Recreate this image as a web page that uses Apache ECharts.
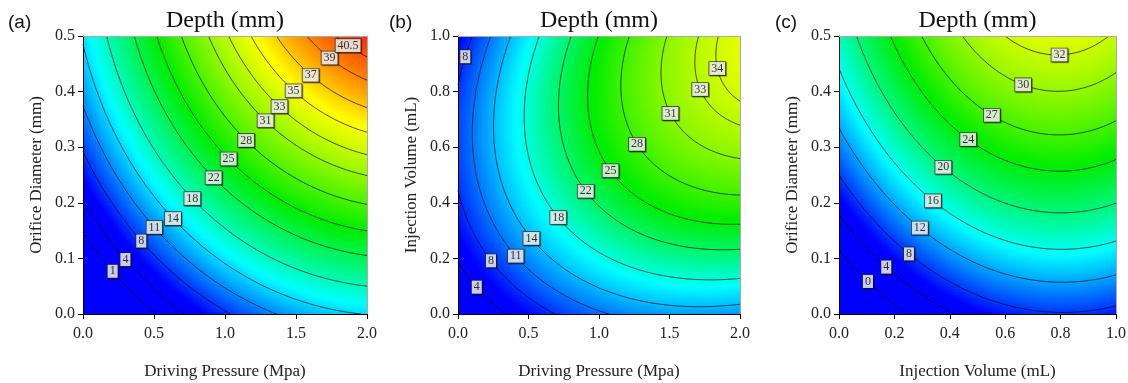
<!DOCTYPE html>
<html><head><meta charset="utf-8">
<script src="https://cdn.jsdelivr.net/npm/echarts/dist/echarts.min.js"></script>
<style>html,body{margin:0;padding:0;background:#fff}#c{width:1128px;height:383px}</style>
</head><body><div id="c"></div>
<script>
// ---------- Panel (a): Depth vs Driving Pressure (MPa) x Orifice Diameter (mm)
const aLabelZ = [1, 4, 8, 11, 14, 18, 22, 25, 28, 31, 33, 35, 37, 39, 40.5];
const aLabelX = [0.224, 0.313, 0.419, 0.508, 0.640, 0.772, 0.920, 1.026, 1.148, 1.287, 1.384, 1.485, 1.612, 1.748, 1.882];
const aLabelY = [0.080, 0.101, 0.133, 0.157, 0.173, 0.208, 0.245, 0.279, 0.312, 0.348, 0.373, 0.402, 0.432, 0.464, 0.488];
// contour crossings with the plot edges
const aEdgeZ = [1, 1, 4, 4, 8, 8, 11, 11, 14, 18, 18, 22, 22, 25, 25, 28, 28, 31, 31, 33, 33, 35, 35, 37, 37, 39, 39, 40.5, 40.5];
const aEdgeX = [0, 0.494, 0, 0.694, 0, 1.012, 0, 1.342, 2, 0.176, 2, 0.366, 2, 0.530, 2, 0.694, 2, 0.848, 2, 1.012, 2, 1.200, 2, 1.370, 2, 1.550, 2, 1.776, 2];
const aEdgeY = [0.1445, 0, 0.1995, 0, 0.2855, 0, 0.3665, 0, 0.0035, 0.5, 0.0515, 0.5, 0.1055, 0.5, 0.1475, 0.5, 0.1955, 0.5, 0.247, 0.5, 0.2855, 0.5, 0.328, 0.5, 0.365, 0.5, 0.419, 0.5, 0.463];
const aLevels = [1, 4, 8, 11, 14, 18, 22, 25, 28, 31, 33, 35, 37, 39, 40.5];
const aColorStops = [6, 15.5, 25, 35.5, 43];

// ---------- Panel (b): Depth vs Driving Pressure (MPa) x Injection Volume (mL)
const bLabelZ = [4, 8, 11, 14, 18, 22, 25, 28, 31, 33, 34, 8];
const bLabelX = [0.146, 0.246, 0.402, 0.528, 0.716, 0.910, 1.086, 1.272, 1.504, 1.724, 1.848, 0.048];
const bLabelY = [0.102, 0.196, 0.205, 0.275, 0.349, 0.443, 0.517, 0.611, 0.721, 0.809, 0.884, 0.926];
const bEdgeZ = [4, 4, 8, 8, 8, 8, 11, 11, 11, 14, 14, 14, 18, 18, 22, 22, 25, 25, 28, 28, 31, 31, 33, 33, 34, 34];
const bEdgeX = [0, 0.334, 0, 0.662, 0.110, 0, 0.240, 1.074, 0.100, 0.382, 2, 0.240, 0.570, 2, 0.794, 2, 0.984, 2, 1.220, 2, 1.480, 2, 1.704, 2, 1.860, 2];
const bEdgeY = [0.175, 0, 0.440, 0, 1, 0.830, 1, 0, 0.660, 1, 0.037, 0.660, 1, 0.127, 1, 0.229, 1, 0.326, 1, 0.427, 1, 0.560, 1, 0.673, 1, 0.763];
const bLevels = [4, 8, 11, 14, 18, 22, 25, 28, 31, 33, 34];
const bColorStops = [6, 17, 25.5, 36, 44];

// ---------- Panel (c): Depth vs Injection Volume (mL) x Orifice Diameter (mm)
const cLabelZ = [0, 4, 8, 12, 16, 20, 24, 27, 30, 32];
const cLabelX = [0.114, 0.179, 0.251, 0.285, 0.344, 0.381, 0.471, 0.555, 0.668, 0.796];
const cLabelY = [0.0635, 0.089, 0.107, 0.1505, 0.2065, 0.2665, 0.317, 0.360, 0.4165, 0.464];
const cEdgeZ = [0, 0, 4, 4, 8, 8, 8, 12, 12, 12, 16, 16, 16, 20, 20, 20, 24, 24, 24, 27, 27, 27, 30, 30, 30, 32, 32];
const cEdgeX = [0, 0.239, 0, 0.395, 0, 1, 0.8, 0, 1, 0.8, 0, 1, 0.8, 0.066, 1, 0.8, 0.190, 1, 0.8, 0.293, 1, 0.8, 0.438, 1, 0.8, 0.594, 0.970];
const cEdgeY = [0.1115, 0, 0.1745, 0, 0.2465, 0.0155, 0.0035, 0.3305, 0.0725, 0.0575, 0.442, 0.1325, 0.1145, 0.5, 0.199, 0.1805, 0.5, 0.2735, 0.254, 0.5, 0.352, 0.3175, 0.5, 0.4355, 0.398, 0.5, 0.5];
const cLevels = [0, 4, 8, 12, 16, 20, 24, 27, 30, 32];
const cColorStops = [6, 15.5, 24.5, 34, 42];

const stopColors = [[0, 0, 255], [0, 255, 255], [0, 238, 0], [255, 255, 0], [255, 0, 0]];
const SERIF = 'Liberation Serif, Times New Roman, serif';
const SANS = 'Liberation Sans, Arial, sans-serif';

const panels = [
  {tag: '(a)', tagX: 8, xName: 'Driving Pressure (Mpa)', yName: 'Orifice Diameter (mm)', xMax: 2, yMax: 0.5, xStep: 0.5, yStep: 0.1,
   lz: aLabelZ, lx: aLabelX, ly: aLabelY, ez: aEdgeZ, ex: aEdgeX, ey: aEdgeY, levels: aLevels, stops: aColorStops,
   box: {left: 83, top: 36, width: 284, height: 278}},
  {tag: '(b)', tagX: 389, xName: 'Driving Pressure (Mpa)', yName: 'Injection Volume (mL)', xMax: 2, yMax: 1, xStep: 0.5, yStep: 0.2,
   lz: bLabelZ, lx: bLabelX, ly: bLabelY, ez: bEdgeZ, ex: bEdgeX, ey: bEdgeY, levels: bLevels, stops: bColorStops,
   box: {left: 458, top: 36, width: 282, height: 278}},
  {tag: '(c)', tagX: 775, xName: 'Injection Volume (mL)', yName: 'Orifice Diameter (mm)', xMax: 1, yMax: 0.5, xStep: 0.2, yStep: 0.1,
   lz: cLabelZ, lx: cLabelX, ly: cLabelY, ez: cEdgeZ, ex: cEdgeX, ey: cEdgeY, levels: cLevels, stops: cColorStops,
   box: {left: 839, top: 36, width: 277, height: 278}}
];

// palette for a continuous visualMap, with the given colour stop values
function palette(stops, count) {
  const lo = stops[0], hi = stops[stops.length - 1], out = [];
  for (let k = 0; k < count; k++) {
    const z = lo + (hi - lo) * k / (count - 1);
    let s = 0; while (s < stops.length - 2 && z > stops[s + 1]) s++;
    const t = Math.min(1, Math.max(0, (z - stops[s]) / (stops[s + 1] - stops[s])));
    const c = stopColors[s].map((v, i) => Math.round(v + t * (stopColors[s + 1][i] - v)));
    out.push('rgb(' + c.join(',') + ')');
  }
  return out;
}

// least-squares quadratic response surface through the read contour points
function fitQuadratic(xs, ys, zs, xr, yr) {
  const n = 6, A = [], b = new Array(n).fill(0);
  for (let i = 0; i < n; i++) A.push(new Array(n).fill(0));
  for (let k = 0; k < xs.length; k++) {
    const u = xs[k] / xr, v = ys[k] / yr, phi = [1, u, v, u * v, u * u, v * v];
    for (let i = 0; i < n; i++) { b[i] += phi[i] * zs[k]; for (let j = 0; j < n; j++) A[i][j] += phi[i] * phi[j]; }
  }
  for (let c = 0; c < n; c++) {
    let p = c; for (let r = c + 1; r < n; r++) if (Math.abs(A[r][c]) > Math.abs(A[p][c])) p = r;
    [A[c], A[p]] = [A[p], A[c]]; [b[c], b[p]] = [b[p], b[c]];
    for (let r = c + 1; r < n; r++) { const m = A[r][c] / A[c][c]; for (let j = c; j < n; j++) A[r][j] -= m * A[c][j]; b[r] -= m * b[c]; }
  }
  const x = new Array(n).fill(0);
  for (let r = n - 1; r >= 0; r--) { let s = b[r]; for (let j = r + 1; j < n; j++) s -= A[r][j] * x[j]; x[r] = s / A[r][r]; }
  return x;
}

function contourPolylines(F, xr, yr, level, n) {
  const W = n + 1, g = new Float64Array(W * W);
  for (let j = 0; j <= n; j++) for (let i = 0; i <= n; i++) g[j * W + i] = F(i / n, j / n);
  const val = (i, j) => g[j * W + i];
  const pts = new Map(), adj = new Map();
  function edgePt(key, i1, j1, i2, j2) {
    if (!pts.has(key)) {
      const a = val(i1, j1), b = val(i2, j2), t = (level - a) / (b - a);
      pts.set(key, [xr * (i1 + t * (i2 - i1)) / n, yr * (j1 + t * (j2 - j1)) / n]);
    }
    return key;
  }
  function link(k1, k2) {
    if (!adj.has(k1)) adj.set(k1, []); if (!adj.has(k2)) adj.set(k2, []);
    adj.get(k1).push(k2); adj.get(k2).push(k1);
  }
  for (let j = 0; j < n; j++) for (let i = 0; i < n; i++) {
    const s00 = val(i, j) >= level, s10 = val(i + 1, j) >= level, s11 = val(i + 1, j + 1) >= level, s01 = val(i, j + 1) >= level;
    const e = {};
    if (s00 !== s10) e.B = edgePt('h' + i + '_' + j, i, j, i + 1, j);
    if (s10 !== s11) e.R = edgePt('v' + (i + 1) + '_' + j, i + 1, j, i + 1, j + 1);
    if (s01 !== s11) e.T = edgePt('h' + i + '_' + (j + 1), i, j + 1, i + 1, j + 1);
    if (s00 !== s01) e.L = edgePt('v' + i + '_' + j, i, j, i, j + 1);
    const ks = Object.keys(e);
    if (ks.length === 2) link(e[ks[0]], e[ks[1]]);
    else if (ks.length === 4) {
      const c = (val(i, j) + val(i + 1, j) + val(i + 1, j + 1) + val(i, j + 1)) / 4 >= level;
      if (c === s00) { link(e.B, e.R); link(e.T, e.L); } else { link(e.B, e.L); link(e.R, e.T); }
    }
  }
  const seen = new Set(), lines = [];
  function walk(start) {
    const path = [start]; seen.add(start); let cur = start;
    for (;;) {
      const nx = adj.get(cur).find(k => !seen.has(k));
      if (nx === undefined) { if (path.length > 2 && adj.get(cur).includes(start)) path.push(start); break; }
      path.push(nx); seen.add(nx); cur = nx;
    }
    lines.push(path.map(k => pts.get(k)));
  }
  for (const [k, v] of adj) if (v.length === 1 && !seen.has(k)) walk(k);
  for (const k of adj.keys()) if (!seen.has(k)) walk(k);
  return lines;
}

const N = 110;
const grids = [], xAxes = [], yAxes = [], series = [], visualMaps = [], titles = [];
const axisText = {fontFamily: SERIF, fontSize: 16, color: '#222'};
const nameText = {fontFamily: SERIF, fontSize: 17, color: '#222'};

panels.forEach((p, k) => {
  const co = fitQuadratic(p.lx.concat(p.ex), p.ly.concat(p.ey), p.lz.concat(p.ez), p.xMax, p.yMax);
  const F = (u, v) => co[0] + co[1] * u + co[2] * v + co[3] * u * v + co[4] * u * u + co[5] * v * v;
  grids.push(Object.assign({show: false, outerBoundsMode: 'none', containLabel: false}, p.box));
  const vx = xAxes.length;
  xAxes.push({type: 'value', gridIndex: k, min: 0, max: p.xMax, interval: p.xStep, position: 'bottom', z: 10,
    name: p.xName, nameLocation: 'middle', nameGap: 49, nameTextStyle: nameText,
    axisLine: {show: true, onZero: false, lineStyle: {color: '#000', width: 1}},
    axisTick: {show: true, length: 5, inside: false, lineStyle: {color: '#000'}},
    axisLabel: Object.assign({margin: 12, formatter: v => v.toFixed(1), hideOverlap: false, showMinLabel: true, showMaxLabel: true}, axisText),
    splitLine: {show: false}});
  xAxes.push({type: 'value', gridIndex: k, min: 0, max: p.xMax, position: 'top', z: 10,
    axisLine: {show: true, onZero: false, lineStyle: {color: '#aaa', width: 1}}, axisTick: {show: false}, axisLabel: {show: false}, splitLine: {show: false}});
  const vy = yAxes.length;
  yAxes.push({type: 'value', gridIndex: k, min: 0, max: p.yMax, interval: p.yStep, position: 'left', z: 10,
    name: p.yName, nameLocation: 'middle', nameGap: 38, nameRotate: 90, nameTextStyle: nameText,
    axisLine: {show: true, onZero: false, lineStyle: {color: '#000', width: 1}},
    axisTick: {show: true, length: 5, inside: false, lineStyle: {color: '#000'}},
    axisLabel: Object.assign({margin: 8, formatter: v => v.toFixed(1), hideOverlap: false, showMinLabel: true, showMaxLabel: true}, axisText),
    splitLine: {show: false}});
  yAxes.push({type: 'value', gridIndex: k, min: 0, max: p.yMax, position: 'right', z: 10,
    axisLine: {show: true, onZero: false, lineStyle: {color: '#aaa', width: 1}}, axisTick: {show: false}, axisLabel: {show: false}, splitLine: {show: false}});

  // colour surface: one small cell per grid sample of the fitted response surface
  const hx = p.xMax / (2 * N), hy = p.yMax / (2 * N);
  const cells = [];
  for (let i = 0; i < N; i++) for (let j = 0; j < N; j++) {
    const u = (i + 0.5) / N, v = (j + 0.5) / N;
    cells.push([u * p.xMax, v * p.yMax, F(u, v)]);
  }
  visualMaps.push({type: 'continuous', show: false, seriesIndex: series.length, dimension: 2,
    min: p.stops[0], max: p.stops[p.stops.length - 1], inRange: {color: palette(p.stops, 80)}});
  series.push({type: 'custom', xAxisIndex: vx, yAxisIndex: vy, data: cells, progressive: 0, silent: true, clip: true,
    encode: {x: 0, y: 1},
    renderItem: (params, api) => {
      const x = api.value(0), y = api.value(1);
      const p0 = api.coord([x - hx, y + hy]), p1 = api.coord([x + hx, y - hy]);
      return {type: 'rect', shape: {x: p0[0], y: p0[1], width: p1[0] - p0[0] + 0.8, height: p1[1] - p0[1] + 0.8},
        style: {fill: api.visual('color')}, silent: true};
    }});

  // contour lines
  const lineData = [];
  p.levels.forEach(L => contourPolylines(F, p.xMax, p.yMax, L, 160).forEach(c => { if (c.length > 1) lineData.push({coords: c}); }));
  series.push({type: 'lines', coordinateSystem: 'cartesian2d', xAxisIndex: vx, yAxisIndex: vy, polyline: true, silent: true, z: 3,
    data: lineData, lineStyle: {color: '#000', width: 0.8, opacity: 0.85}, effect: {show: false}});

  // contour labels, snapped onto the fitted contour
  const labels = p.lz.map((L, i) => {
    let u = p.lx[i] / p.xMax, v = p.ly[i] / p.yMax;
    for (let it = 0; it < 6; it++) {
      const h = 1e-4, d = F(u, v) - L;
      const gu = (F(u + h, v) - F(u - h, v)) / (2 * h), gv = (F(u, v + h) - F(u, v - h)) / (2 * h), g2 = gu * gu + gv * gv;
      u -= d * gu / g2; v -= d * gv / g2;
    }
    return [u * p.xMax, v * p.yMax, L];
  });
  series.push({type: 'scatter', xAxisIndex: vx, yAxisIndex: vy, data: labels, symbolSize: 2, z: 5, silent: true,
    itemStyle: {color: 'rgba(0,0,0,0)'},
    label: {show: true, position: 'inside', formatter: q => String(q.value[2]), fontFamily: SERIF, fontSize: 12, color: '#000',
      textBorderWidth: 0, backgroundColor: '#ffffff', borderColor: '#222', borderWidth: 0.8, padding: [1, 2, 0, 2],
      shadowColor: 'rgba(0,0,0,0.4)', shadowOffsetX: 1, shadowOffsetY: 1, shadowBlur: 0}});

  titles.push({text: 'Depth (mm)', left: p.box.left + p.box.width / 2, textAlign: 'center', top: 9, padding: 0,
    textStyle: {fontFamily: SERIF, fontSize: 24, fontWeight: 'normal', color: '#111'}});
  titles.push({text: p.tag, left: p.tagX, top: 13, padding: 0, textStyle: {fontFamily: SANS, fontSize: 19, fontWeight: 'normal', color: '#111'}});
});

const chart = echarts.init(document.getElementById('c'), null, {renderer: 'canvas'});
chart.setOption({animation: false, backgroundColor: '#fff', title: titles, grid: grids, xAxis: xAxes, yAxis: yAxes,
  visualMap: visualMaps, series: series, tooltip: {show: false}});
</script></body></html>
